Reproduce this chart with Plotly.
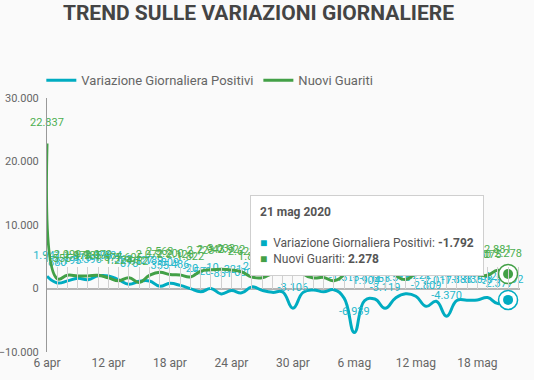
import pandas as pd
import plotly.graph_objects as go

# ---- data ----
dates = pd.date_range("2020-04-06", "2020-05-21", freq="D")
variazione_positivi = [1941, 880, 1195, 1615, 1396, 1996, 1984, 1363, 675, 1127, 1189, 355, 809, 486,
                       -20, -528, -10, -851, -321, -680, 256, -290, -608, -548, -3106,
                       -608, -239, -525, -199, -1513, -6939, -1904, -1663, -3119, -1518, -836,
                       -1222, -2809, -2017, -4370, -1883, -1836, -1798, -1424, -2377, -1792]
nuovi_guariti = [22837, 1555, 2099, 1979, 1985, 2079, 1677, 1224, 1695, 962, 2072, 2563, 2200, 2128,
                 1822, 2723, 2943, 3033, 2922, 2622, 1808, 1696, 2317, 2311, 4693,
                 2304, 1665, 1740, 1225, 2352, 8014, 3031, 2747, 4008, 2155, 1401,
                 2452, 3502, 2747, 4917, 2605, 2366, 2150, 2075, 2881, 2278]
series_names = ["Variazione Giornaliera Positivi", "Nuovi Guariti"]
tick_dates = ["2020-04-06", "2020-04-12", "2020-04-18", "2020-04-24", "2020-04-30",
              "2020-05-06", "2020-05-12", "2020-05-18"]
tick_labels = ["6 apr", "12 apr", "18 apr", "24 apr", "30 apr", "6 mag", "12 mag", "18 mag"]
y_ticks = [-10000, 0, 10000, 20000, 30000]
tooltip_date = "21 mag 2020"

CYAN = "#00acc1"
GREEN = "#43a047"
CYAN_TXT = "#26b8cc"
GREEN_TXT = "#4caf50"


def it_fmt(v):
    return f"{v:,}".replace(",", ".")


LABEL_PAD = "<br><span style='font-size:7px'> </span>"

fig = go.Figure()
for name, vals, col, tcol in [(series_names[0], variazione_positivi, CYAN, CYAN_TXT),
                              (series_names[1], nuovi_guariti, GREEN, GREEN_TXT)]:
    fig.add_trace(go.Scatter(
        x=dates, y=vals, name=name, mode="lines+text",
        line=dict(color=col, width=3, shape="spline", smoothing=1.3),
        text=[it_fmt(v) + LABEL_PAD for v in vals], textposition="top center",
        textfont=dict(size=11, color=tcol), cliponaxis=False,
    ))

# highlighted (hovered) last points
for vals, col in [(variazione_positivi, CYAN), (nuovi_guariti, GREEN)]:
    fig.add_trace(go.Scatter(
        x=[dates[-1]], y=[vals[-1]], xaxis="x2", mode="markers", showlegend=False,
        marker=dict(size=19, color="white", line=dict(color=col, width=1.5)),
        cliponaxis=False, hoverinfo="skip"))
    fig.add_trace(go.Scatter(
        x=[dates[-1]], y=[vals[-1]], xaxis="x2", mode="markers", showlegend=False,
        marker=dict(size=10, color=col), cliponaxis=False, hoverinfo="skip"))

x_range = [dates[0], dates[-1] + pd.Timedelta(hours=28)]

tooltip_text = (
    f"<b>{tooltip_date}</b><br><span style='font-size:7px'> </span><br>"
    f"<span style='color:{CYAN}'>■</span>  {series_names[0]}: <b>{it_fmt(variazione_positivi[-1])}</b><br>"
    f"<span style='color:{GREEN}'>■</span>  {series_names[1]}: <b>{it_fmt(nuovi_guariti[-1])}</b>"
)

fig.update_layout(
    width=534, height=380,
    paper_bgcolor="#fafafa", plot_bgcolor="#fafafa",
    font=dict(family="Roboto, Noto Sans, sans-serif", color="#666", size=12),
    separators=",.",
    margin=dict(l=47, r=14, t=98, b=28, autoexpand=False),
    title=dict(text="TREND SULLE VARIAZIONI GIORNALIERE", x=0.484, xanchor="center",
               y=0.968, yanchor="middle",
               font=dict(family="Roboto, sans-serif", size=21, color="#444", weight="bold")),
    showlegend=True,
    legend=dict(orientation="h", x=-0.012, xanchor="left", y=1.07, yanchor="middle",
                font=dict(size=13, color="#666"), bgcolor="rgba(0,0,0,0)"),
    xaxis=dict(type="date", range=x_range, tickvals=tick_dates, ticktext=tick_labels,
               showgrid=False, showline=False, zeroline=False, ticks="", automargin=False,
               ticklabelstandoff=2, tickfont=dict(size=12, color="#666")),
    xaxis2=dict(type="date", overlaying="x", anchor="free", position=0.25, matches="x",
                ticks="inside", ticklen=22, tickcolor="#d0d0d0", tickwidth=1,
                dtick=86400000, tick0=dates[0], showticklabels=False, automargin=False,
                showgrid=False, showline=False, zeroline=False),
    yaxis=dict(range=[-10000, 30000], tickvals=y_ticks, tickformat=",", showgrid=False,
               zeroline=True, zerolinecolor="#b5b5b5", zerolinewidth=1.5, automargin=False,
               showline=True, linecolor="#999", linewidth=1, ticks="",
               ticklabelstandoff=5, tickfont=dict(size=11, color="#666")),
    annotations=[dict(
        text=tooltip_text, xref="paper", yref="paper", x=0.429, y=0.618,
        xanchor="left", yanchor="top", align="left", showarrow=False,
        bgcolor="white", bordercolor="#cfcfcf", borderwidth=1, borderpad=9,
        font=dict(size=12, color="#555"))],
)

fig.write_html("out.html", config={"displayModeBar": False},
               post_script="document.body.style.margin='0px';")
